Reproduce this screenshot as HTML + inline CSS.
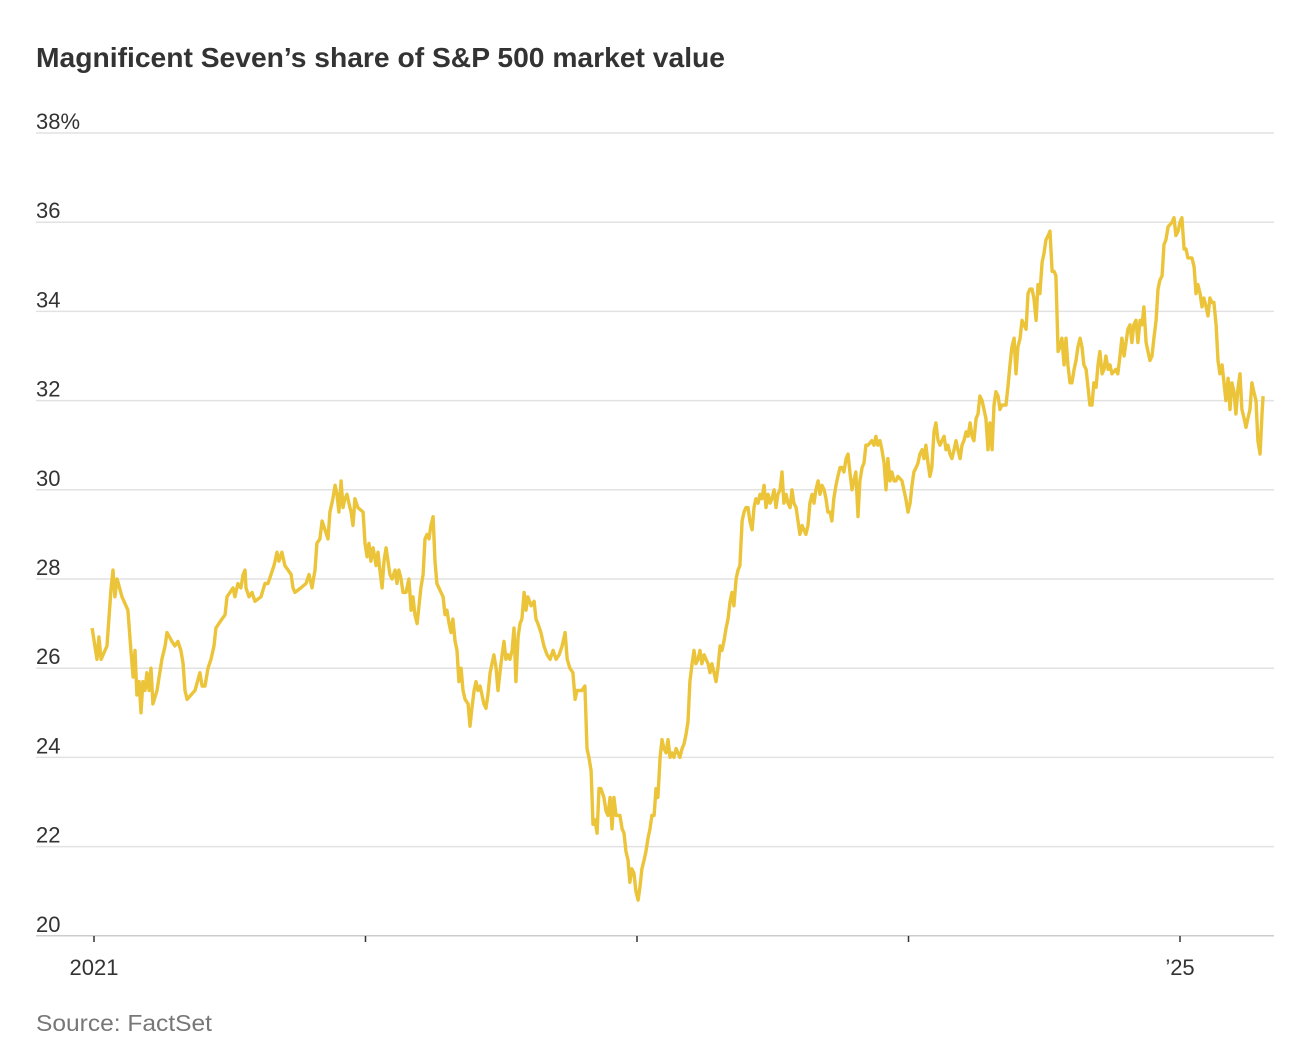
<!DOCTYPE html>
<html><head><meta charset="utf-8">
<style>
body{margin:0;background:#fff;width:1310px;height:1056px;overflow:hidden;font-family:"Liberation Sans",sans-serif}
</style></head>
<body>
<svg id="chart" width="1310" height="1056" xmlns="http://www.w3.org/2000/svg">
<text x="36" y="67" font-family="Liberation Sans, sans-serif" font-weight="bold" font-size="28" fill="#333" textLength="689" lengthAdjust="spacingAndGlyphs">Magnificent Seven’s share of S&amp;P 500 market value</text>
<g id="grid"></g><g id="xaxis"></g>
<path id="line" fill="none" stroke="#EBC43A" stroke-width="3.4" stroke-linejoin="round"/>
<text x="36" y="1031" font-family="Liberation Sans, sans-serif" font-size="23" fill="#777" textLength="176" lengthAdjust="spacingAndGlyphs">Source: FactSet</text>
</svg>
<script>
const yTicks=[20,22,24,26,28,30,32,34,36,38];
const yTickLabels=["20","22","24","26","28","30","32","34","36","38%"];
const xTicks=[0,1,2,3,4];
const xTickLabels=["2021","","","","’25"];
// years since Jan 1 2021
const dates=[-0.007,0.011,0.018,0.026,0.048,0.063,0.070,0.077,0.085,0.103,0.125,0.136,0.144,0.151,0.158,0.166,0.173,0.180,0.188,0.195,0.203,0.210,0.217,0.232,0.250,0.262,0.269,0.287,0.298,0.309,0.320,0.328,0.335,0.343,0.357,0.372,0.390,0.398,0.409,0.420,0.431,0.442,0.449,0.471,0.483,0.490,0.512,0.519,0.530,0.541,0.549,0.556,0.560,0.571,0.582,0.593,0.615,0.630,0.641,0.652,0.663,0.674,0.681,0.692,0.703,0.715,0.726,0.733,0.740,0.762,0.781,0.792,0.803,0.814,0.821,0.832,0.840,0.851,0.862,0.869,0.880,0.888,0.895,0.902,0.910,0.917,0.924,0.932,0.939,0.947,0.954,0.961,0.972,0.991,0.998,1.006,1.013,1.020,1.028,1.039,1.046,1.053,1.061,1.068,1.076,1.083,1.090,1.098,1.109,1.116,1.123,1.131,1.138,1.149,1.160,1.168,1.175,1.182,1.190,1.197,1.204,1.212,1.219,1.227,1.234,1.241,1.249,1.256,1.263,1.278,1.286,1.293,1.300,1.308,1.315,1.322,1.330,1.337,1.344,1.352,1.359,1.367,1.378,1.385,1.392,1.400,1.407,1.414,1.422,1.429,1.436,1.444,1.451,1.459,1.466,1.473,1.481,1.488,1.495,1.503,1.510,1.517,1.525,1.532,1.540,1.547,1.554,1.562,1.569,1.576,1.584,1.591,1.598,1.610,1.621,1.628,1.635,1.646,1.657,1.669,1.680,1.691,1.702,1.713,1.724,1.735,1.743,1.753,1.764,1.772,1.779,1.797,1.808,1.816,1.823,1.831,1.838,1.845,1.853,1.860,1.867,1.878,1.886,1.893,1.901,1.908,1.915,1.923,1.937,1.945,1.952,1.959,1.967,1.974,1.981,1.989,1.996,2.004,2.011,2.018,2.026,2.033,2.041,2.048,2.055,2.063,2.070,2.077,2.085,2.092,2.099,2.107,2.114,2.122,2.129,2.136,2.144,2.151,2.158,2.166,2.173,2.180,2.188,2.195,2.203,2.210,2.217,2.225,2.232,2.239,2.247,2.254,2.262,2.269,2.276,2.284,2.291,2.298,2.306,2.313,2.320,2.328,2.335,2.343,2.350,2.357,2.365,2.372,2.379,2.387,2.394,2.401,2.409,2.416,2.424,2.431,2.438,2.446,2.453,2.460,2.468,2.475,2.483,2.490,2.497,2.505,2.512,2.519,2.527,2.534,2.541,2.549,2.556,2.564,2.571,2.578,2.586,2.593,2.600,2.608,2.615,2.622,2.630,2.637,2.645,2.652,2.659,2.667,2.674,2.681,2.689,2.696,2.703,2.711,2.718,2.725,2.733,2.740,2.748,2.755,2.762,2.770,2.777,2.784,2.792,2.799,2.806,2.814,2.821,2.829,2.836,2.843,2.851,2.865,2.873,2.880,2.887,2.895,2.902,2.910,2.917,2.924,2.932,2.939,2.947,2.954,2.961,2.976,2.983,2.990,2.998,3.006,3.013,3.020,3.028,3.035,3.042,3.050,3.057,3.064,3.072,3.079,3.086,3.094,3.101,3.109,3.116,3.123,3.131,3.138,3.145,3.153,3.160,3.168,3.175,3.182,3.190,3.197,3.204,3.212,3.219,3.227,3.234,3.241,3.249,3.256,3.263,3.271,3.278,3.285,3.293,3.300,3.308,3.315,3.322,3.330,3.337,3.344,3.359,3.366,3.374,3.381,3.389,3.396,3.403,3.411,3.418,3.425,3.433,3.440,3.447,3.455,3.462,3.470,3.477,3.484,3.492,3.499,3.506,3.514,3.521,3.529,3.536,3.543,3.551,3.558,3.565,3.573,3.580,3.587,3.595,3.602,3.610,3.617,3.624,3.632,3.639,3.646,3.654,3.661,3.668,3.676,3.683,3.691,3.698,3.705,3.713,3.720,3.727,3.735,3.742,3.749,3.764,3.771,3.779,3.786,3.794,3.801,3.808,3.816,3.823,3.830,3.838,3.845,3.853,3.860,3.867,3.875,3.882,3.889,3.897,3.904,3.912,3.919,3.926,3.934,3.941,3.948,3.956,3.971,3.978,3.985,3.993,4.000,4.007,4.015,4.022,4.029,4.044,4.052,4.059,4.066,4.074,4.081,4.088,4.096,4.103,4.110,4.118,4.125,4.133,4.140,4.147,4.155,4.162,4.169,4.177,4.184,4.191,4.199,4.206,4.214,4.221,4.228,4.236,4.243,4.250,4.258,4.265,4.272,4.280,4.287,4.295,4.302,4.306];
const shares=[26.9,26.2,26.7,26.2,26.5,27.8,28.2,27.6,28.0,27.6,27.3,26.4,25.8,26.4,25.4,25.7,25.0,25.7,25.5,25.9,25.5,26.0,25.2,25.5,26.2,26.5,26.8,26.6,26.5,26.6,26.4,26.1,25.5,25.3,25.4,25.5,25.9,25.6,25.6,26.0,26.2,26.5,26.9,27.1,27.2,27.6,27.8,27.6,27.9,27.8,28.1,28.2,27.8,27.6,27.7,27.5,27.6,27.9,27.9,28.1,28.3,28.6,28.4,28.6,28.3,28.2,28.1,27.8,27.7,27.8,27.9,28.1,27.8,28.2,28.8,28.9,29.3,29.1,28.9,29.5,29.8,30.1,29.9,29.5,30.2,29.6,29.8,29.9,29.7,29.5,29.2,29.8,29.6,29.5,28.8,28.5,28.8,28.4,28.7,28.3,28.6,28.2,27.8,28.4,28.7,28.4,28.1,28.0,28.2,27.9,28.2,28.0,27.7,27.7,28.0,27.3,27.6,27.2,27.0,27.4,27.8,28.1,28.9,29.0,28.9,29.2,29.4,28.4,27.9,27.7,27.6,27.2,27.3,27.0,26.8,27.1,26.6,26.4,25.7,26.0,25.5,25.3,25.2,24.7,25.1,25.5,25.7,25.5,25.6,25.4,25.2,25.1,25.4,25.9,26.1,26.3,26.0,25.5,25.9,26.3,26.6,26.2,26.3,26.2,26.4,26.9,25.7,26.7,27.0,27.1,27.7,27.3,27.6,27.4,27.5,27.1,27.0,26.8,26.5,26.3,26.2,26.4,26.2,26.3,26.5,26.8,26.2,26.0,25.9,25.3,25.5,25.5,25.6,24.2,24.0,23.7,22.5,22.6,22.3,23.3,23.3,23.1,22.8,22.7,23.1,22.4,23.1,22.7,22.7,22.4,22.3,21.9,21.7,21.2,21.5,21.4,21.0,20.8,21.1,21.5,21.7,21.9,22.2,22.4,22.7,22.7,23.3,23.1,24.0,24.4,24.2,24.1,24.4,24.0,24.1,24.0,24.2,24.1,24.0,24.2,24.3,24.5,24.8,25.7,26.1,26.4,26.1,26.2,26.4,26.1,26.3,26.2,26.1,25.9,26.1,25.9,25.7,26.0,26.5,26.4,26.6,26.9,27.1,27.5,27.7,27.4,28.0,28.2,28.3,29.3,29.5,29.6,29.6,29.3,29.1,29.6,29.8,29.7,29.9,29.8,30.1,29.6,29.9,29.7,29.8,30.0,29.6,29.9,30.0,30.4,29.7,29.9,29.7,29.6,30.0,29.7,29.6,29.3,29.0,29.2,29.1,29.0,29.2,29.7,29.9,29.7,30.0,30.2,29.9,30.1,30.0,29.8,29.5,29.5,29.3,29.8,30.1,30.3,30.5,30.5,30.4,30.7,30.8,30.4,30.0,30.2,30.4,29.4,30.2,30.5,30.6,31.0,31.0,31.1,31.0,31.2,31.0,31.1,30.9,30.6,30.0,30.7,30.2,30.4,30.2,30.2,30.3,30.2,30.0,29.8,29.5,29.7,30.1,30.4,30.5,30.6,30.8,30.9,30.7,31.0,30.6,30.3,30.5,31.3,31.5,31.1,31.0,31.1,31.2,30.9,31.0,30.8,30.7,30.9,31.1,30.9,30.7,31.0,31.1,31.3,31.2,31.5,31.2,31.1,31.6,31.7,32.1,32.0,31.8,31.6,30.9,31.5,30.9,31.9,32.2,32.1,31.8,31.9,31.9,32.3,32.8,33.2,33.4,32.6,33.2,33.4,33.8,33.7,33.6,34.4,34.5,34.5,34.3,33.8,34.6,34.4,35.1,35.3,35.6,35.7,35.8,34.9,34.9,34.8,33.1,33.2,33.4,32.8,33.4,32.8,32.4,32.4,32.7,32.9,33.2,33.4,33.2,32.8,32.7,32.3,31.9,31.9,32.4,32.3,32.8,33.1,32.6,32.7,33.0,32.7,32.8,32.6,32.7,32.6,33.0,33.4,33.0,33.3,33.6,33.7,33.3,33.7,33.8,33.3,33.8,33.7,34.1,33.3,33.1,32.9,33.0,33.4,33.8,34.5,34.7,34.8,35.5,35.6,35.9,36.0,36.1,35.7,35.8,36.0,36.1,35.4,35.4,35.2,35.2,35.0,34.4,34.6,34.4,34.1,34.3,34.1,33.9,34.3,34.2,34.2,33.7,32.9,32.6,32.8,32.4,32.0,32.5,31.8,32.4,32.2,31.7,32.3,32.6,31.8,31.6,31.4,31.6,31.8,32.4,32.2,32.0,31.1,30.8,31.7,32.1];

const NS="http://www.w3.org/2000/svg";
const xScale=t=>94+t*271.5;
const yScale=v=>133+(38-v)*44.6;
const grid=document.getElementById('grid');
yTicks.forEach((v,i)=>{
  const l=document.createElementNS(NS,'line');
  
  
  l.setAttribute('x1',36);l.setAttribute('x2',1274);
  l.setAttribute('y1',yScale(v));l.setAttribute('y2',yScale(v));
  l.setAttribute('stroke',v===20?'#ccc':'#e2e2e2');l.setAttribute('stroke-width',1.5);
  grid.appendChild(l);
  const t=document.createElementNS(NS,'text');
  
  
  t.setAttribute('x',36);t.setAttribute('y',yScale(v)-4);
  t.setAttribute('font-size','22');t.setAttribute('fill','#333');
  t.setAttribute('font-family','Liberation Sans, sans-serif');
  t.textContent=yTickLabels[i];
  grid.appendChild(t);
});
const xa=document.getElementById('xaxis');
xTicks.forEach((t,i)=>{
  const l=document.createElementNS(NS,'line');
  
  
  l.setAttribute('x1',xScale(t));l.setAttribute('x2',xScale(t));
  l.setAttribute('y1',936);l.setAttribute('y2',942);
  l.setAttribute('stroke','#333');l.setAttribute('stroke-width',1.5);
  xa.appendChild(l);
  if(xTickLabels[i]){
    const tx=document.createElementNS(NS,'text');
    
    
    tx.setAttribute('x',xScale(t));tx.setAttribute('y',975);
    tx.setAttribute('text-anchor','middle');
    tx.setAttribute('font-size','22');tx.setAttribute('fill','#333');
    tx.setAttribute('font-family','Liberation Sans, sans-serif');
    tx.textContent=xTickLabels[i];
    xa.appendChild(tx);
  }
});
let d='';
dates.forEach((t,i)=>{d+=(i?'L':'M')+xScale(t).toFixed(1)+','+yScale(shares[i]).toFixed(1);});
document.getElementById('line').setAttribute('d',d);
</script>
</body></html>
